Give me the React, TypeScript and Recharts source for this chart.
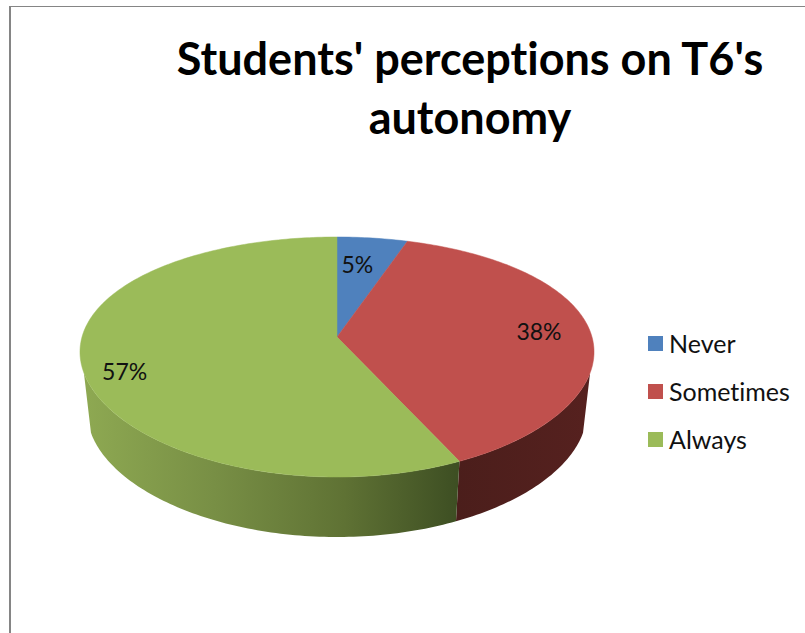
import React from "react";
import { PieChart, Pie, Legend } from "recharts";

const categories = ["Never", "Sometimes", "Always"];
const shares = [5, 38, 57];
const colors = ["#4F81BD", "#C0504D", "#9BBB59"];
const titleLines = ["Students' perceptions on T6's", "autonomy"];

// how far along the radius each percentage sits, plus a small nudge
const labelReach = [0.74, 0.8, 0.83];
const labelNudge = [[-6, 0], [0, 0], [0, 12]];

const rows = categories.map((name, i) => ({ name, value: shares[i], fill: colors[i] }));

const FONT = "Lato, Carlito, sans-serif";

// tilted disc, with the near side larger than the far side
const RX = 255;
const RY = 116.67;
const PERSP_X = 0.125;
const PERSP_Y = 0.1667;
const DEPTH = 60;
const BASE_SCALE = 0.972;
const WALL_FROM = 107;
const WALL_TO = 253;

function rimPoint(cx: number, cy: number, deg: number, reach = 1) {
  const t = (deg * Math.PI) / 180;
  const u = Math.sin(t);
  const v = Math.cos(t);
  return {
    x: cx + (reach * RX * u) / (1 + PERSP_X * v),
    y: cy - (reach * RY * v) / (1 + PERSP_Y * v),
  };
}

function sweep(from: number, to: number) {
  const steps = Math.max(2, Math.ceil(Math.abs(to - from)));
  const out: number[] = [];
  for (let i = 0; i <= steps; i++) out.push(from + ((to - from) * i) / steps);
  return out;
}

function toPath(points: { x: number; y: number }[]) {
  return points.map((p, i) => `${i ? "L" : "M"}${p.x.toFixed(2)} ${p.y.toFixed(2)}`).join(" ") + " Z";
}

function DiscSlice(props: any) {
  const { cx, cy, startAngle, endAngle, fill, name } = props;
  // recharts angles run counter-clockwise from 3 o'clock
  const a = 90 - startAngle;
  const b = 90 - endAngle;
  const top = [{ x: cx, y: cy }, ...sweep(a, b).map((d) => rimPoint(cx, cy, d))];

  const wallA = Math.max(a, WALL_FROM);
  const wallB = Math.min(b, WALL_TO);
  let wall = null;
  if (wallB > wallA) {
    const upper = sweep(wallA, wallB).map((d) => rimPoint(cx, cy, d));
    const lower = [...upper].reverse().map((p) => ({
      x: cx + (p.x - cx) * BASE_SCALE,
      y: p.y + DEPTH,
    }));
    const wallFill = name === "Always" ? "url(#greenWall)" : name === "Sometimes" ? "url(#redWall)" : fill;
    wall = <path d={toPath([...upper, ...lower])} fill={wallFill} />;
  }

  return (
    <g>
      <defs>
        <linearGradient id="greenWall" gradientUnits="userSpaceOnUse" x1={83} y1={0} x2={456} y2={0}>
          <stop offset="0" stopColor="#8EA952" />
          <stop offset="0.35" stopColor="#788F45" />
          <stop offset="0.7" stopColor="#5F7234" />
          <stop offset="1" stopColor="#3E4F23" />
        </linearGradient>
        <linearGradient id="redWall" gradientUnits="userSpaceOnUse" x1={456} y1={0} x2={593} y2={0}>
          <stop offset="0" stopColor="#4B1E1B" />
          <stop offset="1" stopColor="#56211F" />
        </linearGradient>
      </defs>
      {wall}
      <path d={toPath(top)} fill={fill} stroke={fill} strokeWidth={0.5} />
    </g>
  );
}

function SliceLabel(props: any) {
  const { cx, cy, midAngle, value, index } = props;
  const p = rimPoint(cx, cy, 90 - midAngle, labelReach[index]);
  const [dx, dy] = labelNudge[index];
  return (
    <text
      x={p.x + dx}
      y={p.y + dy}
      textAnchor="middle"
      dominantBaseline="central"
      fontFamily={FONT}
      fontSize={23}
      fill="#111"
    >
      {`${value}%`}
    </text>
  );
}

function LegendRows({ payload }: any) {
  return (
    <div>
      {(payload || []).map((item: any) => (
        <div key={item.value} style={{ display: "flex", alignItems: "center", height: 48 }}>
          <span style={{ width: 15, height: 15, background: item.color, marginRight: 6 }} />
          <span style={{ fontFamily: FONT, fontSize: 25, color: "#111", fontVariantLigatures: "none" }}>{item.value}</span>
        </div>
      ))}
    </div>
  );
}

const titleStyle = { fontVariantLigatures: "none" };

export default function App() {
  return (
    <div style={{ position: "absolute", left: 0, top: 0, width: 805, height: 633, background: "#fff", overflow: "hidden" }}>
      <div style={{ position: "absolute", left: 9, top: 6, right: 0, bottom: 0, borderLeft: "2px solid #858585", borderTop: "1px solid #858585" }} />
      <PieChart width={805} height={633} margin={{ top: 0, right: 0, bottom: 0, left: 0 }} style={{ position: "absolute", left: 0, top: 0 }}>
        <text x={470} y={74.5} textAnchor="middle" fontFamily={FONT} fontWeight={700} fontSize={45} fill="#000" style={titleStyle}>
          {titleLines[0]}
        </text>
        <text x={470} y={133.5} textAnchor="middle" fontFamily={FONT} fontWeight={700} fontSize={45} fill="#000" style={titleStyle}>
          {titleLines[1]}
        </text>
        <Pie
          data={rows}
          dataKey="value"
          nameKey="name"
          cx={337}
          cy={337}
          outerRadius={100}
          startAngle={90}
          endAngle={-270}
          stroke="none"
          legendType="square"
          shape={DiscSlice}
          label={SliceLabel}
          labelLine={false}
          isAnimationActive={false}
        />
        <Legend
          layout="vertical"
          itemSorter={null}
          content={LegendRows}
          wrapperStyle={{ position: "absolute", left: 648, top: 319, width: 157, margin: 0 }}
        />
      </PieChart>
    </div>
  );
}
